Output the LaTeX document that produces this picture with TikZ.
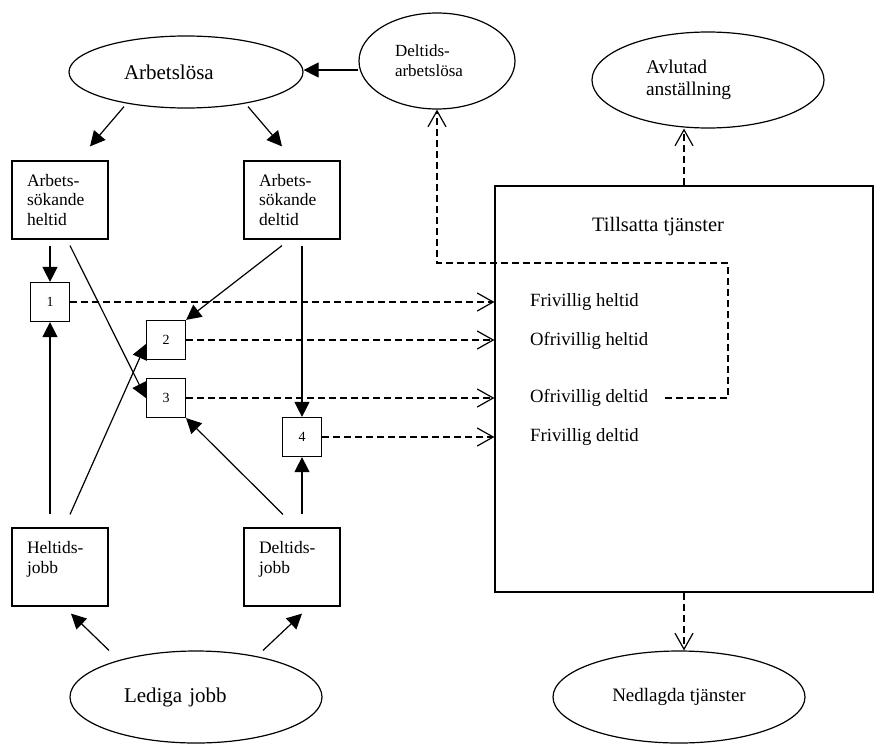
\documentclass[tikz,border=0pt]{standalone}
\usepackage{fontspec}
\setmainfont{Liberation Serif}
\usetikzlibrary{arrows.meta,shapes.geometric}
\tikzset{
  jobbox/.style={draw, line width=1.2pt, text width=66pt, inner xsep=15pt, inner ysep=0pt,
    minimum height=78pt, align=left, font=\fontsize{17.5}{19.5}\selectfont},
  numbox/.style={draw, line width=1.2pt, minimum size=39pt, inner sep=0pt,
    font=\fontsize{14}{16}\selectfont},
  oval/.style={draw, line width=1.2pt, ellipse, inner sep=0pt},
  item/.style={anchor=west, inner sep=0pt, font=\fontsize{18.7}{22}\selectfont},
  arr/.style={line width=1.2pt, -{Triangle[length=15pt,width=15pt]}},
  flow/.style={line width=1.2pt, dash pattern=on 7pt off 4pt, -{Straight Barb[length=16pt,width=18pt]}},
}
\begin{document}
\begin{tikzpicture}[x=1pt,y=-1pt]
      \useasboundingbox (0,0) rectangle (874,744);
      \node[oval, minimum width=234pt, minimum height=72pt, text width=124pt, align=left,
        font=\fontsize{21}{25}\selectfont] (ar) at (186,72) {Arbetslösa};
      \node[oval, minimum width=156pt, minimum height=96pt, text width=84pt, align=left,
        font=\fontsize{17}{20}\selectfont] (da) at (437,61) {Deltids-\\arbetslösa};
      \node[oval, minimum width=232pt, minimum height=96pt, text width=124pt, align=left,
        font=\fontsize{19.4}{22}\selectfont] (av) at (708,80) {Avlutad\\anställning};
      \node[jobbox] (ahl) at (60,200) {Arbets-\\sökande\\heltid};
      \node[jobbox] (adl) at (292,200) {Arbets-\\sökande\\deltid};
      \node[jobbox] (hj) at (60,567) {Heltids-\\jobb\\\mbox{}};
      \node[jobbox] (dj) at (292,567) {Deltids-\\jobb\\\mbox{}};
      \node[oval, minimum width=252pt, minimum height=92pt, text width=144pt, align=left,
        font=\fontsize{21}{25}\selectfont] (lj) at (196,697) {Lediga jobb};
      \node[oval, minimum width=252pt, minimum height=92pt,
        font=\fontsize{19}{22}\selectfont] (nt) at (679,697) {Nedlagda tjänster};
      \node[numbox] (b1) at (50,302) {1};
      \node[numbox] (b2) at (166,340) {2};
      \node[numbox] (b3) at (166,398) {3};
      \node[numbox] (b4) at (302,437) {4};
      \node[draw, line width=1.2pt, minimum width=378pt, minimum height=406pt] (tj) at (684,389) {};
      \node[font=\fontsize{20.5}{24}\selectfont] (tt) at (658,227) {Tillsatta tjänster};
      \node[item] (fh) at (530,302) {Frivillig heltid};
      \node[item] (oh) at (530,341) {Ofrivillig heltid};
      \node[item] (od) at (530,398) {Ofrivillig deltid};
      \node[item] (fd) at (530,437) {Frivillig deltid};
      \coordinate (knee) at (728,263);
      \draw[arr] ([yshift=-9pt]da.west) -- ([yshift=-9pt]da.west -| ar.east);
      \draw[arr, shorten <=4pt] (ar.208) -- ([xshift=30pt,yshift=14pt]ahl.north);
      \draw[arr, shorten <=4pt] (ar.332) -- ([xshift=-10pt,yshift=14pt]adl.north);
      \draw[arr, shorten <=6pt] (ahl.south -| b1.north) -- (b1.north);
      \draw[arr] ([xshift=10pt,yshift=-6pt]ahl.south) -- (b3.west);
      \draw[arr] ([xshift=-10pt,yshift=-6pt]adl.south) -- (b2.north east);
      \draw[arr, shorten <=6pt] (adl.south -| b4.north) -- (b4.north);
      \draw[arr, shorten <=13pt] (hj.north -| b1.south) -- (b1.south);
      \draw[arr] ([xshift=10pt,yshift=13pt]hj.north) -- ([yshift=-4pt]b2.west);
      \draw[arr] ([xshift=-9pt,yshift=13pt]dj.north) -- (b3.south east);
      \draw[arr, shorten <=13pt] (dj.north -| b4.south) -- (b4.south);
      \draw[arr] ([xshift=-87pt]lj.north) -- ([xshift=11pt,yshift=-7pt]hj.south);
      \draw[arr] ([xshift=67pt]lj.north) -- ([xshift=10pt,yshift=-7pt]dj.south);
      \foreach \b in {b1,b2,b3,b4}
        \draw[flow] (\b.east) -- (\b.east -| tj.west);
      \draw[flow] ([xshift=17pt]od.east) -| (knee) -| (da.south);
      \draw[flow] (tj.north) -- (tj.north |- av.south);
      \draw[flow] (tj.south) -- (tj.south |- nt.north);
    \end{tikzpicture}
\end{document}
